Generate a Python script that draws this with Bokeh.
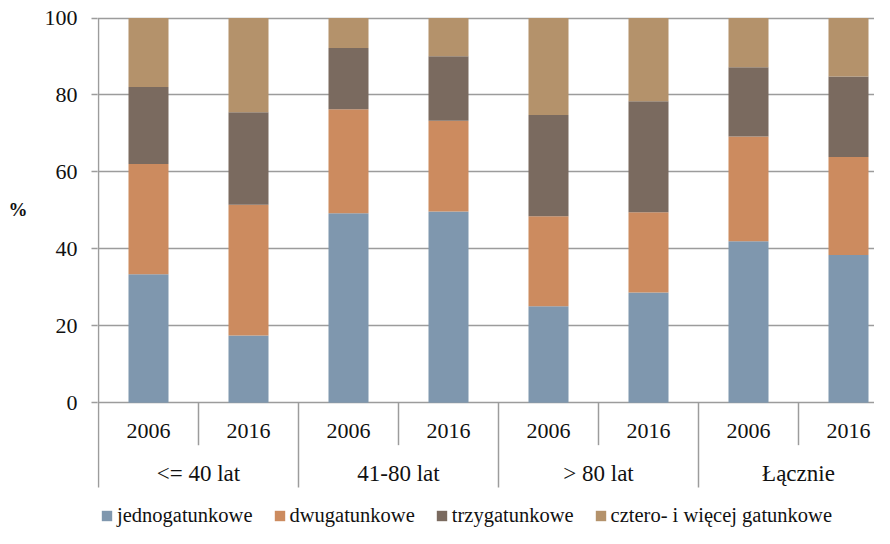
from bokeh.plotting import figure
from bokeh.models import (Range1d, FixedTicker, Legend, LegendItem,
                          ColumnDataSource)
from bokeh.core.properties import value
from bokeh.embed import file_html
from bokeh.resources import INLINE

# ---- data ----
groups = ["<= 40 lat", "41-80 lat", "> 80 lat", "Łącznie"]
years = ["2006", "2016"]
series_names = ["jednogatunkowe", "dwugatunkowe", "trzygatunkowe",
                "cztero- i więcej gatunkowe"]
jedno = [33.4, 17.5, 49.3, 49.7, 25.1, 28.7, 42.0, 38.4]
dwu = [28.7, 34.0, 27.0, 23.6, 23.4, 20.8, 27.2, 25.5]
trzy = [20.0, 24.0, 15.9, 16.8, 26.3, 28.9, 18.0, 20.9]
cztero = [17.9, 24.5, 7.8, 9.9, 25.2, 21.6, 12.8, 15.2]
y_ticks = [0, 20, 40, 60, 80, 100]

colors = ["#7F97AE", "#CC8B5F", "#7A6A5F", "#B4926B"]
FONT = "Liberation Serif"
GRID = "#9C9C9C"
TXT = "#111111"

n = len(groups) * len(years)
xs = list(range(n))
year_labels = [y for g in groups for y in years]
fields = ["jedno", "dwu", "trzy", "cztero"]

src = ColumnDataSource(dict(x=xs, jedno=jedno, dwu=dwu, trzy=trzy, cztero=cztero))

W = 874
H = 528
left = 97
top = 16
cat_px = 100.0
x_start = -0.51
fw = W - left
fh = H - top
y_top = 100.4
y_bottom = y_top - fh / 3.848
p = figure(frame_width=fw, frame_height=fh, output_backend="svg", toolbar_location=None,
           x_range=Range1d(x_start, x_start + fw / cat_px),
           y_range=Range1d(y_bottom, y_top),
           x_axis_location=None,
           min_border_left=left, min_border_right=0, min_border_top=top,
           min_border_bottom=0)
p.outline_line_color = None

# grid
p.xgrid.visible = False
p.ygrid.ticker = FixedTicker(ticks=y_ticks)
p.ygrid.grid_line_color = GRID
p.ygrid.grid_line_width = 1.5

# y axis (line drawn separately so it stops at the category axis)
ax = p.yaxis[0]
ax.ticker = FixedTicker(ticks=y_ticks)
ax.axis_line_color = None
ax.major_tick_line_color = GRID
ax.major_tick_line_width = 1.5
ax.major_tick_out = 6
ax.major_tick_in = 0
ax.minor_tick_line_color = None
ax.major_label_text_font = FONT
ax.major_label_text_font_size = "22px"
ax.major_label_text_color = TXT
ax.major_label_standoff = 14
ax.axis_label = "%\n\n\n\n\n"
ax.axis_label_orientation = "horizontal"
ax.axis_label_text_font = FONT
ax.axis_label_text_font_size = "19px"
ax.axis_label_text_font_style = "bold"
ax.axis_label_text_color = TXT
ax.axis_label_standoff = 14

# bars
rs = p.vbar_stack(fields, x="x", width=0.4, color=colors, line_color=None, source=src)

# left axis line and separators of the category axis
p.segment(x0=[-0.5], y0=[-22], x1=[-0.5], y1=[100], line_color=GRID, line_width=1.5)
year_sep = [i + 0.5 for i in xs if i % 2 == 0]
p.segment(x0=year_sep, y0=[0] * len(year_sep), x1=year_sep, y1=[-11] * len(year_sep),
          line_color=GRID, line_width=1.5)
group_sep = [i - 0.5 for i in xs if i % 2 == 0 and i > 0]
p.segment(x0=group_sep, y0=[0] * len(group_sep), x1=group_sep, y1=[-22] * len(group_sep),
          line_color=GRID, line_width=1.5)

# category labels
p.text(x=xs, y=[-7.3] * n, text=year_labels, text_font=value(FONT),
       text_font_size="22px", text_align="center", text_baseline="middle",
       text_color=TXT)
gx = [2 * i + 0.5 for i in range(len(groups))]
p.text(x=gx, y=[-18.4] * len(groups), text=groups, text_font=value(FONT),
       text_font_size="23px", text_align="center", text_baseline="middle",
       text_color=TXT)

items = [LegendItem(label=nm, renderers=[r]) for nm, r in zip(series_names, rs)]
legend = Legend(items=items, orientation="horizontal", location=(3, 1),
                glyph_width=13, glyph_height=13, label_standoff=4, spacing=20,
                padding=0, margin=0, border_line_color=None,
                background_fill_alpha=0, label_text_font=FONT,
                label_text_font_size="20.5px", label_text_color=TXT)
p.add_layout(legend, "center")

open("out.html", "w").write(file_html(p, INLINE))
